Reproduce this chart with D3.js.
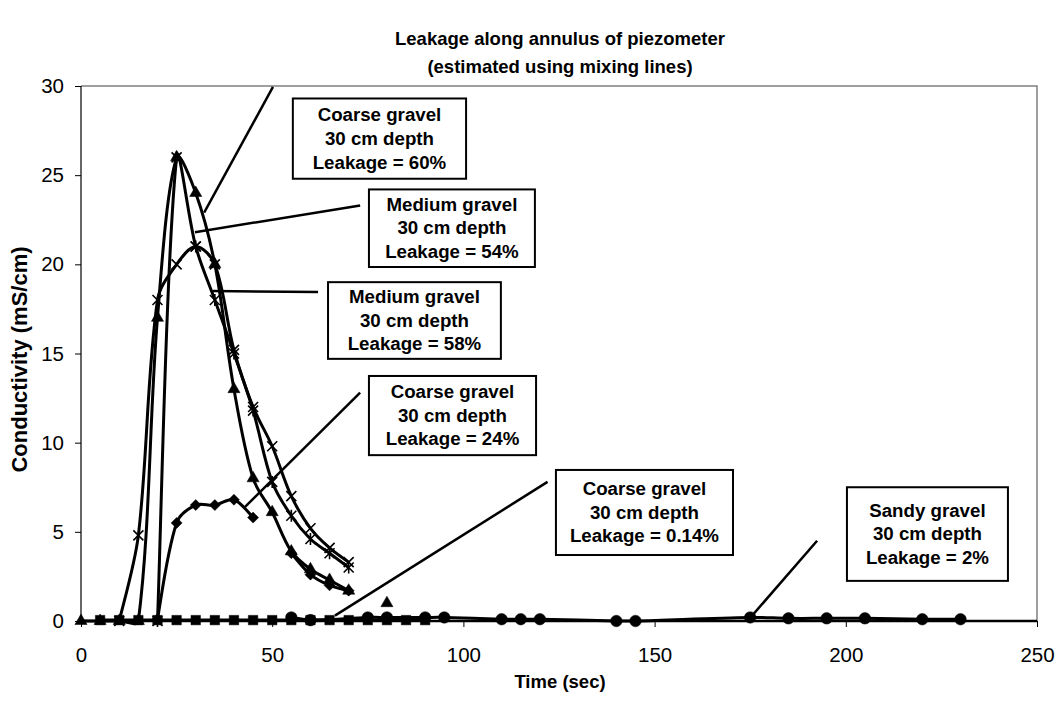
<!DOCTYPE html>
<html>
<head>
<meta charset="utf-8">
<script src="https://cdn.jsdelivr.net/npm/d3@7"></script>
<style>
  body { margin: 0; background: #fff; }
  svg text { font-family: "Liberation Sans", Arial, sans-serif; fill: #000; }
</style>
</head>
<body>
<svg class="chart" width="1064" height="706"></svg>
<script>
// data (time in sec, conductivity in mS/cm), null = gap
var triTimes = [0, 5, 10, 15, 20, 25, 30, 35, 40, 45, 50, 55, 60, 65, 70, 75, 80];
var triVals  = [0, 0, 0, 0, 17, 26, 24, 20, 13, 8, 6.1, 3.9, 2.9, 2.3, 1.7, null, 1.0];

var crossTimes = [10, 15, 20, 25, 30, 35, 40, 45, 50, 55, 60, 65, 70];
var crossVals  = [0, 4.8, 18, 20, 21, 20, 15.2, 12, 9.8, 7, 5.2, 4.1, 3.3];

var starTimes = [20, 25, 30, 35, 40, 45, 50, 55, 60, 65, 70];
var starVals  = [0, 26, 21, 18, 15, 11.8, 7.8, 5.9, 4.6, 3.8, 3.0];

var diaTimes = [20, 25, 30, 35, 40, 45, 50, 55, 60, 65, 70];
var diaVals  = [0.1, 5.5, 6.5, 6.5, 6.8, 5.8, null, 3.8, 2.6, 2.0, 1.7];

var sqTimes = [5, 10, 15, 20, 25, 30, 35, 40, 45, 50, 55, 60, 65, 70, 75, 80, 85, 90];
var sqVals  = [0.05, 0.05, 0.05, 0.05, 0.05, 0.05, 0.05, 0.05, 0.05, 0.05, 0.05, 0.05, 0.05, 0.05, 0.05, 0.05, 0.05, 0.05];

var dotTimes = [55, 60, 75, 80, 90, 95, 110, 115, 120, 140, 145, 175, 185, 195, 205, 220, 230];
var dotVals  = [0.2, 0.05, 0.2, 0.2, 0.2, 0.2, 0.1, 0.1, 0.1, 0, 0, 0.2, 0.15, 0.15, 0.15, 0.1, 0.1];

var xTicks = [0, 50, 100, 150, 200, 250];
var yTicks = [0, 5, 10, 15, 20, 25, 30];

// callouts: box [t0, v0, t1, v1] and leader ends in data units
var callouts = [
  {lines: ["Coarse gravel", "30 cm depth", "Leakage = 60%"],  box: [55.4, 29.3, 100.7, 24.8], lead: [[50.2, 29.95], [32.2, 22.9]]},
  {lines: ["Medium gravel", "30 cm depth", "Leakage = 54%"],  box: [75.3, 24.2, 118.7, 19.85], lead: [[73.0, 23.3], [29.8, 21.8]]},
  {lines: ["Medium gravel", "30 cm depth", "Leakage = 58%"],  box: [64.6, 19.0, 109.8, 14.7], lead: [[62.0, 18.45], [34.5, 18.5]]},
  {lines: ["Coarse gravel", "30 cm depth", "Leakage = 24%"],  box: [75.3, 13.74, 119.0, 9.3], lead: [[73.0, 12.8], [42.9, 6.4]]},
  {lines: ["Coarse gravel", "30 cm depth", "Leakage = 0.14%"], box: [124.2, 8.47, 170.5, 3.7], lead: [[122.0, 7.8], [66.4, 0.3]]},
  {lines: ["Sandy gravel", "30 cm depth", "Leakage = 2%"],    box: [200.3, 7.5, 242.4, 2.25], lead: [[192.5, 4.5], [175.5, 0.3]]}
];

var svg = d3.select('svg.chart');
var width = 1064, height = 706;
var margin = {top: 86, right: 27, bottom: 85, left: 81};

var x = d3.scaleLinear().domain([0, 250]).range([margin.left, width - margin.right]);
var y = d3.scaleLinear().domain([0, 30]).range([height - margin.bottom, margin.top]);

// spreadsheet-style smoothing: tangents weighted by chord length
function ExcelCurve(context) { this._context = context; }
ExcelCurve.prototype = {
  areaStart: function() {}, areaEnd: function() {},
  lineStart: function() { this._pts = []; },
  point: function(px, py) { this._pts.push([+px, +py]); },
  lineEnd: function() {
    var p = this._pts, ctx = this._context, n = p.length;
    if (!n) return;
    ctx.moveTo(p[0][0], p[0][1]);
    function dist(a, b) { return Math.hypot(a[0] - b[0], a[1] - b[1]); }
    for (var i = 0; i < n - 1; i++) {
      var p0 = p[i - 1] || p[i], p1 = p[i], p2 = p[i + 1], p3 = p[i + 2] || p[i + 1];
      var d01 = dist(p0, p1), d12 = dist(p1, p2), d23 = dist(p2, p3);
      var f1 = d01 > 0 ? d12 / (d01 + d12) : 0.5;
      var f2 = d23 > 0 ? d12 / (d12 + d23) : 0.5;
      var c1x = p1[0] + (p2[0] - p0[0]) * f1 / 3, c1y = p1[1] + (p2[1] - p0[1]) * f1 / 3;
      var c2x = p2[0] - (p3[0] - p1[0]) * f2 / 3, c2y = p2[1] - (p3[1] - p1[1]) * f2 / 3;
      ctx.bezierCurveTo(c1x, c1y, c2x, c2y, p2[0], p2[1]);
    }
  }
};
function curveExcel(context) { return new ExcelCurve(context); }

// plot frame: grey top/right, black axes
svg.append('path')
  .attr('d', 'M' + x(0) + ',' + y(30) + 'H' + x(250) + 'V' + y(0))
  .attr('fill', 'none').attr('stroke', '#808080').attr('stroke-width', 1.5);

var yAxis = svg.append('g')
  .attr('transform', 'translate(' + x(0) + ',0)')
  .call(d3.axisLeft(y).tickValues(yTicks).tickSize(6).tickPadding(11));
var xAxis = svg.append('g')
  .attr('transform', 'translate(0,' + y(0) + ')')
  .call(d3.axisBottom(x).tickValues(xTicks).tickSize(6).tickPadding(20));

svg.selectAll('.domain').remove();
svg.selectAll('.tick line').attr('stroke', '#000').attr('stroke-width', 1);
svg.selectAll('.tick text')
  .style('font-size', '20.5px')
  .style('font-family', '"Liberation Sans", Arial, sans-serif');
yAxis.append('line').attr('x1', 0).attr('x2', 0).attr('y1', y(0)).attr('y2', y(30))
  .attr('stroke', '#000').attr('stroke-width', 1.2);
xAxis.append('line').attr('x1', x(0)).attr('x2', x(250)).attr('y1', 0).attr('y2', 0)
  .attr('stroke', '#000').attr('stroke-width', 2.5);

// titles
svg.append('text').attr('x', 560).attr('y', 45).attr('text-anchor', 'middle')
  .style('font-size', '18.5px').style('font-weight', 'bold')
  .text('Leakage along annulus of piezometer');
svg.append('text').attr('x', 560).attr('y', 73).attr('text-anchor', 'middle')
  .style('font-size', '18.5px').style('font-weight', 'bold')
  .text('(estimated using mixing lines)');
svg.append('text').attr('x', 560).attr('y', 688).attr('text-anchor', 'middle')
  .style('font-size', '18.5px').style('font-weight', 'bold')
  .text('Time (sec)');
svg.append('text').attr('transform', 'translate(27,' + ((y(0) + y(30)) / 2 + 6) + ') rotate(-90)')
  .attr('text-anchor', 'middle')
  .style('font-size', '22px').style('font-weight', 'bold')
  .text('Conductivity (mS/cm)');

function pts(ts, vs) {
  return ts.map(function(t, i) { return {t: t, v: vs[i]}; });
}

var line = d3.line()
  .defined(function(d) { return d.v !== null; })
  .x(function(d) { return x(d.t); })
  .y(function(d) { return y(d.v); })
  .curve(curveExcel);

var crossPath = 'M-5,-5L5,5M-5,5L5,-5';
var starPath = 'M-5,-5L5,5M-5,5L5,-5M0,-6L0,6';
var diamondPath = 'M0,-5.5L5.5,0L0,5.5L-5.5,0Z';

// marker drawing order: triangles sit under the baseline squares
var series = [
  {data: pts(triTimes, triVals), mark: d3.symbol(d3.symbolTriangle, 64)(), fill: true},
  {data: pts(sqTimes, sqVals), mark: d3.symbol(d3.symbolSquare, 90)(), fill: true},
  {data: pts(dotTimes, dotVals), mark: d3.symbol(d3.symbolCircle, 105)(), fill: true},
  {data: pts(diaTimes, diaVals), mark: diamondPath, fill: true},
  {data: pts(starTimes, starVals), mark: starPath, fill: false},
  {data: pts(crossTimes, crossVals), mark: crossPath, fill: false}
];

series.forEach(function(s) {
  svg.append('path')
    .datum(s.data)
    .attr('d', line)
    .attr('fill', 'none')
    .attr('stroke', '#000')
    .attr('stroke-width', 3)
    .attr('stroke-linejoin', 'round');
});

series.forEach(function(s) {
  svg.append('g').selectAll('path')
    .data(s.data.filter(function(d) { return d.v !== null; }))
    .enter().append('path')
    .attr('transform', function(d) { return 'translate(' + x(d.t) + ',' + y(d.v) + ')'; })
    .attr('d', s.mark)
    .attr('fill', s.fill ? '#000' : 'none')
    .attr('stroke', '#000')
    .attr('stroke-width', s.fill ? 0.5 : 1.6);
});

// callouts
var cg = svg.append('g');
callouts.forEach(function(c) {
  cg.append('line')
    .attr('x1', x(c.lead[0][0])).attr('y1', y(c.lead[0][1]))
    .attr('x2', x(c.lead[1][0])).attr('y2', y(c.lead[1][1]))
    .attr('stroke', '#000').attr('stroke-width', 2.5);
  var x0 = x(c.box[0]), y0 = y(c.box[1]), x1 = x(c.box[2]), y1 = y(c.box[3]);
  cg.append('rect')
    .attr('x', x0).attr('y', y0).attr('width', x1 - x0).attr('height', y1 - y0)
    .attr('fill', '#fff').attr('stroke', '#000').attr('stroke-width', 2);
  var cx = (x0 + x1) / 2, cy = (y0 + y1) / 2;
  c.lines.forEach(function(l, i) {
    cg.append('text')
      .attr('x', cx).attr('y', cy + (i - 1) * 23.7 + 6.2)
      .attr('text-anchor', 'middle')
      .style('font-size', '18.7px').style('font-weight', 'bold')
      .text(l);
  });
});
</script>
</body>
</html>
